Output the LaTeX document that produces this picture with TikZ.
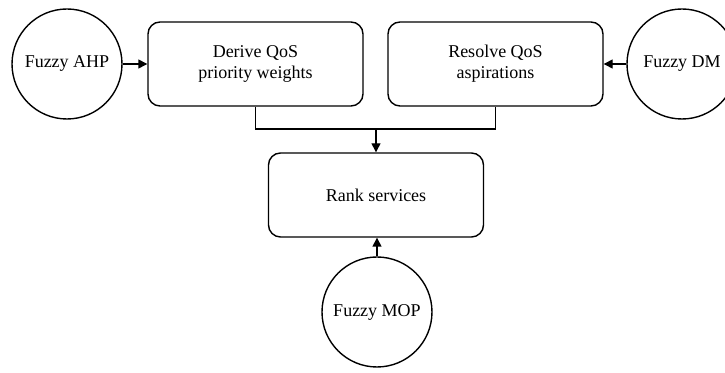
\documentclass[tikz,border=0pt]{standalone}
\usepackage{fontspec}
\setmainfont{Liberation Serif}
\usetikzlibrary{arrows.meta}

\begin{document}
\begin{tikzpicture}[x=0.5pt, y=-0.5pt, line width=0.7pt,
		>={Triangle[length=4.5pt, width=4.5pt]}]
		\tikzset{proc/.style={draw=black, rounded corners=6pt, minimum width=107.5pt, minimum height=42pt, align=center, font=\fontsize{9}{10.5}\selectfont}};
		\tikzset{tool/.style={circle, draw=black, minimum size=55pt, inner sep=0pt, font=\fontsize{9}{10.5}\selectfont}};

		\useasboundingbox (0, 0) rectangle (725, 373);

		\node[tool] (ahp) at (67, 64) {Fuzzy AHP};
		\node[proc] (derive) at (255.5, 64) {Derive QoS\\priority weights};
		\node[proc] (resolve) at (495.5, 64) {Resolve QoS\\aspirations};
		\node[tool] (dm) at (682, 64) {Fuzzy DM};
		\node[proc] (rank) at (376, 195) {Rank services};
		\node[tool] (mop) at (377, 312) {Fuzzy MOP};

		\coordinate (join) at (376, 129);

		\draw[->] (ahp) to (derive);
		\draw[->] (dm) to (resolve);

		\draw (derive.south) |- (join) -| (resolve.south);
		\draw[->] (join) to (rank.north);

		\draw[->] (mop) to (mop |- rank.south);

	\end{tikzpicture}
\end{document}
